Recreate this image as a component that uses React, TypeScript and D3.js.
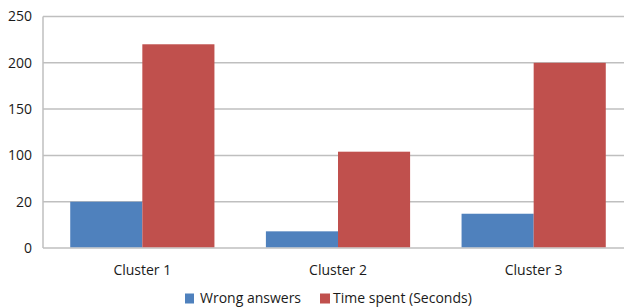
import React from "react";
import * as d3 from "d3";

const clusters = ["Cluster 1", "Cluster 2", "Cluster 3"];
const seriesNames = ["Wrong answers", "Time spent (Seconds)"];
const wrongAnswers = [50, 18, 37];
const timeSpent = [220, 104, 200];
const tickValues = [0, 50, 100, 150, 200, 250];
const tickLabels = ["0", "20", "100", "150", "200", "250"];
const colours = ["#4f81bd", "#c0504d"];

const layout = {
    width: 624,
    height: 308,
    left: 43,
    right: 630,
    top: 16.5,
    bottom: 248
};

const font = "'Open Sans', sans-serif";

export default function App() {
    const xScale = d3
        .scaleBand()
        .domain(clusters)
        .range([layout.left + 1.5, layout.right + 1.5])
        .paddingInner(0.263)
        .paddingOuter(0.1315);
    const inner = d3
        .scaleBand()
        .domain(seriesNames)
        .range([0, xScale.bandwidth()]);
    const yScale = d3
        .scaleLinear()
        .domain([0, 250])
        .range([layout.bottom, layout.top]);

    const series = [wrongAnswers, timeSpent];

    return (
        <svg
            width={layout.width}
            height={layout.height}
            style={{ position: "absolute", left: 0, top: 0 }}
        >
            {tickValues.map((t, i) => (
                <g key={t}>
                    <line
                        x1={layout.left}
                        x2={layout.width}
                        y1={yScale(t)}
                        y2={yScale(t)}
                        stroke="#bfbfbf"
                        strokeWidth={1.5}
                    />
                    <text
                        x={32}
                        y={yScale(t)}
                        dy="0.35em"
                        textAnchor="end"
                        fontFamily={font}
                        fontSize={14}
                        fill="#1a1a1a"
                    >
                        {tickLabels[i]}
                    </text>
                </g>
            ))}
            <line
                x1={layout.left}
                x2={layout.left}
                y1={layout.top}
                y2={layout.bottom}
                stroke="#bfbfbf"
                strokeWidth={1.5}
            />
            {series.map((values, s) =>
                values.map((v, i) => (
                    <rect
                        key={s + "-" + i}
                        x={xScale(clusters[i]) + inner(seriesNames[s])}
                        y={yScale(v)}
                        width={inner.bandwidth()}
                        height={yScale(0) - yScale(v) - 0.75}
                        fill={colours[s]}
                    />
                ))
            )}
            {clusters.map(c => (
                <text
                    key={c}
                    x={xScale(c) + xScale.bandwidth() / 2}
                    y={275}
                    textAnchor="middle"
                    fontFamily={font}
                    fontSize={14}
                    fill="#1a1a1a"
                >
                    {c}
                </text>
            ))}
            <g transform="translate(185,298.5)">
                <rect x={0} y={-5} width={9} height={10} fill={colours[0]} />
                <text x={15} y={0} dy="0.35em" fontFamily={font} fontSize={14} fill="#1a1a1a">
                    {seriesNames[0]}
                </text>
                <rect x={135} y={-5} width={10} height={10} fill={colours[1]} />
                <text x={148} y={0} dy="0.35em" fontFamily={font} fontSize={14} fill="#1a1a1a">
                    {seriesNames[1]}
                </text>
            </g>
        </svg>
    );
}
